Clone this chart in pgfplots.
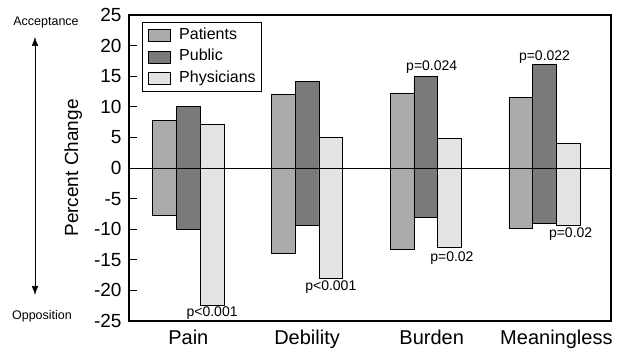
\documentclass[border=0pt]{standalone}
\usepackage{fontspec}
\setmainfont{Liberation Sans}
\usepackage{pgfplots}
\pgfplotsset{compat=1.18}
\usetikzlibrary{arrows.meta}
\definecolor{cpat}{HTML}{ABABAB}
\definecolor{cpub}{HTML}{7A7A7A}
\definecolor{cphy}{HTML}{E3E3E3}
\begin{document}
\begin{tikzpicture}
\path[use as bounding box] (0bp,0bp) rectangle (618bp,350bp);
\begin{axis}[
  at={(129bp,29bp)}, anchor=south west,
  scale only axis, width=482bp, height=306bp,
  xmin=-0.5, xmax=3.56, ymin=-25, ymax=25,
  ybar, bar width=0.2,
  ytick={-25,-20,-15,-10,-5,0,5,10,15,20,25},
  xtick={0,1,2.05,3.1},
  xticklabels={Pain,Debility,Burden,Meaningless},
  xtick style={draw=none},
  tick align=inside, tick pos=left, major tick length=8bp,
  ytick style={line width=0.9bp, black},
  axis line style={line width=1.1bp},
  /pgf/number format/assume math mode=true,
  yticklabel style={font=\fontsize{19bp}{22bp}\selectfont, xshift=-4bp},
  xticklabel style={font=\fontsize{20bp}{24bp}\selectfont, yshift=-5bp},
  ylabel={Percent Change},
  ylabel style={at={(axis description cs:-0.116,0.5)}, anchor=center, font=\fontsize{19bp}{22bp}\selectfont},
  legend style={at={(0.027,0.977)}, anchor=north west, draw=black, line width=0.8bp,
    font=\fontsize{16bp}{19bp}\selectfont, row sep=5.5bp, inner xsep=6bp, inner ysep=5bp,
    column sep=0bp,
    nodes={inner sep=0pt, text height=12bp, text depth=4bp},
    cells={anchor=west}},
  legend image code/.code={\draw[#1] (0bp,-6bp) rectangle (22bp,6bp);},
]
% positive changes (toward acceptance)
\addplot[fill=cpat, draw=black, line width=0.8bp, bar shift=-0.2] coordinates {(0,7.7) (1,12.0) (2,12.2) (3,11.5)};
\addlegendentry{\hspace{8bp}Patients}
\addplot[fill=cpub, draw=black, line width=0.8bp, bar shift=0] coordinates {(0,10.1) (1,14.1) (2,14.9) (3,16.9)};
\addlegendentry{\hspace{8bp}Public}
\addplot[fill=cphy, draw=black, line width=0.8bp, bar shift=0.2] coordinates {(0,7.2) (1,5.0) (2,4.8) (3,4.0)};
\addlegendentry{\hspace{8bp}Physicians}
% negative changes (toward opposition)
\addplot[forget plot, fill=cpat, draw=black, line width=0.8bp, bar shift=-0.2] coordinates {(0,-7.8) (1,-13.9) (2,-13.3) (3,-9.8)};
\addplot[forget plot, fill=cpub, draw=black, line width=0.8bp, bar shift=0] coordinates {(0,-10.1) (1,-9.4) (2,-8.0) (3,-9.0)};
\addplot[forget plot, fill=cphy, draw=black, line width=0.8bp, bar shift=0.2] coordinates {(0,-22.5) (1,-18.1) (2,-13.0) (3,-9.4)};
\draw[line width=0.9bp] (axis cs:-0.5,0) -- (axis cs:3.56,0);
\begin{scope}[every node/.style={font=\fontsize{14bp}{16bp}\selectfont, inner sep=0pt}]
\node at (axis cs:0.2,-23.75) {p<0.001};
\node at (axis cs:1.2,-19.5) {p<0.001};
\node at (axis cs:2.22,-14.75) {p=0.02};
\node at (axis cs:3.22,-10.83) {p=0.02};
\node at (axis cs:2.05,16.45) {p=0.024};
\node at (axis cs:3.0,18.1) {p=0.022};
\end{scope}
\end{axis}
\node[font=\fontsize{12.5bp}{15bp}\selectfont] at (46bp,327bp) {Acceptance};
\node[font=\fontsize{12.5bp}{15bp}\selectfont] at (42bp,34bp) {Opposition};
\draw[{Latex[length=9bp,width=6.5bp]}-{Latex[length=9bp,width=6.5bp]}, line width=0.6bp] (35bp,313bp) -- (35bp,55bp);
\end{tikzpicture}
\end{document}
